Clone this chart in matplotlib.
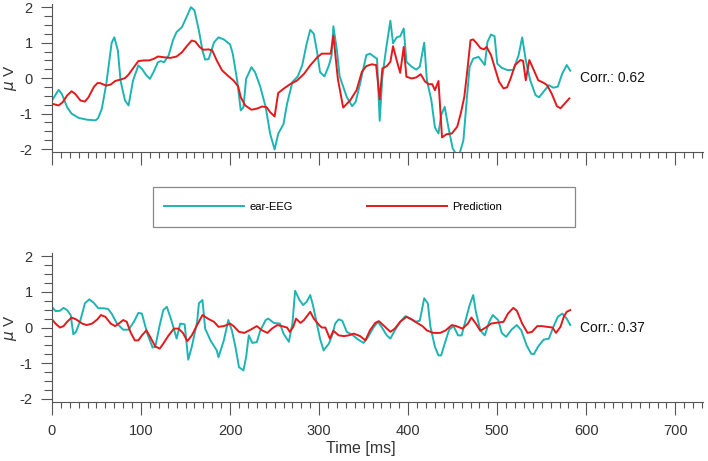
import matplotlib
matplotlib.use("Agg")
import matplotlib.pyplot as plt
from matplotlib.patches import Rectangle
from matplotlib.ticker import MultipleLocator

plt.rcParams["font.family"] = ["Liberation Sans", "DejaVu Sans"]
plt.rcParams["axes.unicode_minus"] = False

# top panel, ear-EEG (time in ms, value in uV)
top_eeg_t = [0, 7.5, 11, 17, 22, 30, 39, 49, 52, 56, 61, 67, 70, 74, 77, 82, 86, 91, 97,
             101, 106, 110, 114, 119, 122, 126, 131, 136, 140, 146, 152, 156, 160, 165,
             169, 172, 176, 182, 187, 193, 200, 203, 208, 212, 215, 218, 224, 228, 234,
             240, 245, 250, 254, 260, 264, 270, 276, 281, 286, 290, 294, 298, 301, 306,
             311, 314, 316, 320, 323, 331, 337, 341, 346, 353, 357, 363, 365, 368, 371,
             375, 380, 383, 387, 391, 395, 398, 404, 409, 413, 418, 421, 426, 430, 434,
             437, 441, 445, 450, 454, 458, 462, 466, 469, 473, 479, 486, 489, 493, 497,
             500, 505, 511, 518, 524, 528, 532, 537, 543, 547, 552, 558, 563, 568, 573,
             578, 582]
top_eeg_v = [-0.63, -0.33, -0.44, -0.82, -1.0, -1.12, -1.17, -1.19, -1.12, -0.86, -0.16,
             0.99, 1.15, 0.78, -0.07, -0.63, -0.77, -0.07, 0.36, 0.26, 0.08, -0.02, 0.17,
             0.45, 0.48, 0.45, 0.64, 1.08, 1.30, 1.44, 1.77, 2.0, 1.91, 1.34, 0.78, 0.52,
             0.54, 1.01, 1.15, 1.09, 0.95, 0.69, -0.07, -0.91, -0.82, -0.02, 0.31, 0.17,
             -0.25, -0.82, -1.57, -2.01, -1.57, -1.29, -0.72, -0.11, 0.05, 0.36, 0.97,
             1.36, 1.25, 0.69, 0.17, 0.05, 0.36, 0.64, 1.46, 0.78, 0.05, -0.53, -0.79,
             -0.67, -0.15, 0.65, 0.69, 0.58, 0.55, -1.20, 0.04, 0.79, 1.62, 0.98, 1.15,
             1.18, 1.40, 0.46, 0.32, 0.24, 0.32, 1.0, -0.06, -0.62, -1.39, -1.56, -1.04,
             -0.81, -1.37, -1.98, -2.15, -2.1, -1.75, -0.53, 0.32, 0.55, 0.60, 0.37, 1.02,
             1.23, 1.18, 0.41, 0.29, 0.23, 0.23, 0.65, 1.15, 0.51, -0.06, -0.48, -0.54,
             -0.38, -0.20, -0.27, -0.24, 0.13, 0.37, 0.21]

# top panel, prediction
top_pred_t = [0, 7.5, 12, 17, 22, 26, 32, 37, 41, 47, 51, 54, 61, 66, 71, 77, 82, 86, 92,
              97, 103, 109, 114, 119, 125, 133, 140, 146, 152, 157, 161, 166, 170, 176,
              180, 185, 191, 197, 204, 209, 212, 217, 224, 230, 236, 241, 245, 250, 254,
              260, 268, 275, 283, 290, 298, 303, 313, 316, 321, 327, 335, 342, 348, 353,
              359, 364, 368, 371, 376, 380, 383, 387, 391, 395, 398, 404, 409, 414, 419,
              423, 427, 430, 434, 438, 443, 449, 455, 459, 463, 466, 470, 473, 477, 481,
              485, 488, 493, 498, 502, 507, 511, 515, 520, 526, 529, 532, 536, 541, 546,
              552, 556, 561, 567, 571, 576, 581]
top_pred_v = [-0.72, -0.77, -0.68, -0.49, -0.37, -0.44, -0.63, -0.66, -0.54, -0.25, -0.14,
              -0.14, -0.21, -0.18, -0.08, -0.04, 0.0, 0.10, 0.31, 0.48, 0.50, 0.50, 0.54,
              0.61, 0.59, 0.57, 0.61, 0.73, 0.92, 1.06, 1.03, 0.87, 0.80, 0.81, 0.78, 0.50,
              0.22, 0.08, -0.07, -0.23, -0.54, -0.77, -0.89, -0.86, -0.80, -0.82, -0.96,
              -1.08, -0.42, -0.30, -0.16, -0.07, 0.12, 0.36, 0.59, 0.69, 0.69, 1.20, -0.02,
              -0.83, -0.62, -0.34, 0.18, 0.34, 0.39, 0.37, -0.60, 0.27, 0.34, 0.46, 0.90,
              0.51, 0.15, 0.88, 0.04, -0.01, 0.02, 0.11, -0.10, -0.17, -0.17, -0.34, -0.08,
              -1.67, -1.58, -1.56, -1.37, -1.00, -0.53, 0.13, 1.07, 1.09, 0.98, 0.85, 0.81,
              0.88, 0.65, 0.23, -0.10, -0.29, -0.26, -0.01, 0.37, 0.51, 0.49, -0.06, 0.51,
              0.23, -0.06, -0.13, -0.20, -0.43, -0.79, -0.85, -0.71, -0.57]

# bottom panel, ear-EEG
bot_eeg_t = [0, 4, 9, 13, 17, 21, 24, 27, 32, 37, 42, 47, 52, 58, 63, 67, 73, 80, 86, 92,
             97, 101, 107, 113, 116, 121, 125, 129, 134, 140, 144, 149, 153, 157, 163,
             165, 169, 172, 178, 185, 187, 193, 198, 202, 206, 210, 215, 218, 221, 225,
             230, 234, 240, 243, 249, 256, 260, 266, 270, 273, 278, 282, 286, 290, 293,
             297, 301, 305, 311, 315, 318, 322, 326, 331, 338, 344, 350, 355, 361, 366,
             370, 376, 380, 385, 391, 397, 402, 408, 413, 418, 422, 425, 430, 434, 437,
             441, 446, 451, 456, 460, 466, 469, 473, 476, 481, 486, 491, 495, 501, 505,
             510, 516, 522, 527, 533, 538, 541, 546, 552, 558, 563, 568, 573, 578, 582]
bot_eeg_v = [0.58, 0.46, 0.47, 0.55, 0.49, 0.35, -0.19, -0.12, 0.21, 0.68, 0.79, 0.69,
             0.54, 0.54, 0.52, 0.39, 0.11, -0.06, -0.06, 0.16, 0.41, 0.39, -0.17, -0.56,
             -0.54, 0.07, 0.49, 0.58, 0.21, -0.31, 0.11, 0.09, -0.90, -0.54, 0.16, 0.68,
             0.77, -0.03, -0.36, -0.64, -0.83, -0.36, 0.21, -0.08, -0.54, -1.11, -1.20,
             -0.83, -0.22, -0.43, -0.41, -0.08, 0.21, 0.25, 0.13, 0.11, -0.17, -0.40, 0.11,
             1.03, 0.77, 0.63, 0.72, 0.91, 0.63, 0.16, -0.31, -0.64, -0.45, -0.19, 0.11,
             0.23, 0.19, -0.12, -0.22, -0.34, -0.43, -0.26, 0.0, 0.16, 0.02, -0.22, -0.31,
             -0.08, 0.16, 0.32, 0.25, 0.16, 0.19, 0.82, 0.68, 0.02, -0.54, -0.78, -0.78,
             -0.45, -0.06, 0.04, -0.22, -0.22, 0.35, 0.63, 0.91, 0.44, -0.08, -0.22, 0.16,
             0.35, 0.21, -0.15, -0.26, -0.06, 0.07, -0.08, -0.50, -0.73, -0.75, -0.53,
             -0.34, -0.31, 0.02, 0.30, 0.39, 0.25, 0.07]

# bottom panel, prediction
bot_pred_t = [0, 4, 9, 13, 17, 22, 27, 34, 39, 45, 51, 55, 60, 66, 71, 76, 80, 84, 88, 93,
              97, 101, 106, 110, 116, 121, 125, 131, 137, 142, 147, 152, 157, 163, 169,
              175, 182, 187, 193, 200, 204, 210, 216, 223, 230, 236, 242, 247, 253, 258,
              264, 267, 271, 274, 279, 283, 290, 294, 300, 303, 307, 312, 316, 322, 328,
              333, 339, 346, 352, 357, 363, 367, 374, 380, 385, 391, 398, 404, 410, 416,
              421, 428, 436, 442, 449, 454, 461, 467, 471, 476, 481, 487, 493, 498, 507,
              512, 518, 522, 528, 534, 539, 545, 550, 556, 562, 566, 571, 575, 578, 582]
bot_pred_v = [0.23, 0.11, 0.0, 0.04, 0.16, 0.28, 0.23, 0.11, 0.07, 0.11, 0.23, 0.35, 0.30,
              0.11, 0.04, 0.13, 0.21, 0.16, -0.12, -0.36, -0.36, -0.22, -0.08, -0.25,
              -0.53, -0.59, -0.45, -0.22, -0.03, -0.03, -0.15, -0.38, -0.22, 0.07, 0.35,
              0.25, 0.16, 0.02, 0.04, 0.11, 0.04, -0.12, -0.15, -0.06, 0.04, -0.08, -0.15,
              -0.03, 0.07, 0.04, 0.0, -0.12, 0.02, 0.25, 0.13, 0.21, 0.44, 0.25, 0.07, 0.0,
              0.0, -0.31, -0.09, -0.22, -0.24, -0.22, -0.17, -0.24, -0.36, -0.08, 0.13,
              0.18, 0.02, -0.12, -0.03, 0.16, 0.30, 0.23, 0.13, 0.04, -0.08, -0.15, -0.15,
              -0.08, 0.07, 0.04, -0.03, 0.11, 0.28, 0.11, -0.09, 0.0, 0.11, 0.13, 0.16,
              0.39, 0.55, 0.47, 0.11, -0.15, -0.12, 0.04, 0.04, 0.02, 0.0, -0.15, 0.02,
              0.32, 0.44, 0.49]

corr_values = ["0.62", "0.37"]
x_ticks = [0, 100, 200, 300, 400, 500, 600, 700]
y_ticks = [-2, -1, 0, 1, 2]

teal = "#1eb4b4"
red = "#e3191c"
axis_gray = "#555555"
text_gray = "#333333"

fig = plt.figure(figsize=(7.08, 4.61), dpi=100)
ax_top = fig.add_axes([0.0734, 0.670, 0.9195, 0.321])
ax_bot = fig.add_axes([0.0734, 0.128, 0.9195, 0.323])

panels = [
    (ax_top, top_eeg_t, top_eeg_v, top_pred_t, top_pred_v, corr_values[0]),
    (ax_bot, bot_eeg_t, bot_eeg_v, bot_pred_t, bot_pred_v, corr_values[1]),
]

for ax, et, ev, pt, pv, corr in panels:
    ax.plot(et, ev, color=teal, lw=1.4, label="ear-EEG")
    ax.plot(pt, pv, color=red, lw=1.4, label="Prediction")
    ax.set_xlim(0, 731)
    ax.set_ylim(-2.085, 2.085)
    ax.set_xticks(x_ticks)
    ax.set_yticks(y_ticks)
    ax.xaxis.set_minor_locator(MultipleLocator(10))
    ax.yaxis.set_minor_locator(MultipleLocator(0.25))
    for side in ["top", "right"]:
        ax.spines[side].set_visible(False)
    for side in ["left", "bottom"]:
        ax.spines[side].set_color(axis_gray)
        ax.spines[side].set_linewidth(0.8)
    ax.tick_params(which="both", direction="out", colors=axis_gray, width=0.8,
                   labelcolor=text_gray, labelsize=10.5)
    ax.tick_params(axis="x", which="major", length=9, pad=7)
    ax.tick_params(axis="x", which="minor", length=4.5)
    ax.tick_params(axis="y", which="major", length=8, pad=6)
    ax.tick_params(axis="y", which="minor", length=5.5)
    ax.set_ylabel("$\\mu$ V", color=text_gray, fontsize=11)
    ax.yaxis.set_label_coords(-0.051, 0.5)
    ax.text(593, 0, "Corr.: " + corr, fontsize=10, color="#111111",
            va="center", ha="left")

ax_top.tick_params(axis="x", labelbottom=False)
ax_bot.set_xlabel("Time [ms]", color=text_gray, fontsize=11.5)
ax_bot.xaxis.set_label_coords(0.475, -0.265)

# legend frame drawn separately so it can be wider than its entries
fig.patches.append(Rectangle((153 / 708, 1 - 227 / 461), 422 / 708, 40 / 461,
                             transform=fig.transFigure, fill=False,
                             edgecolor="#888888", linewidth=0.9))
handles, labels = ax_top.get_legend_handles_labels()
leg = fig.legend(handles, labels, ncol=2, loc="center left",
                 bbox_to_anchor=(160 / 708, 1 - 207 / 461),
                 fontsize=8, handlelength=7.2, handletextpad=0.5,
                 columnspacing=6.6, frameon=False, borderaxespad=0)

fig.savefig("out.png", dpi=100)
